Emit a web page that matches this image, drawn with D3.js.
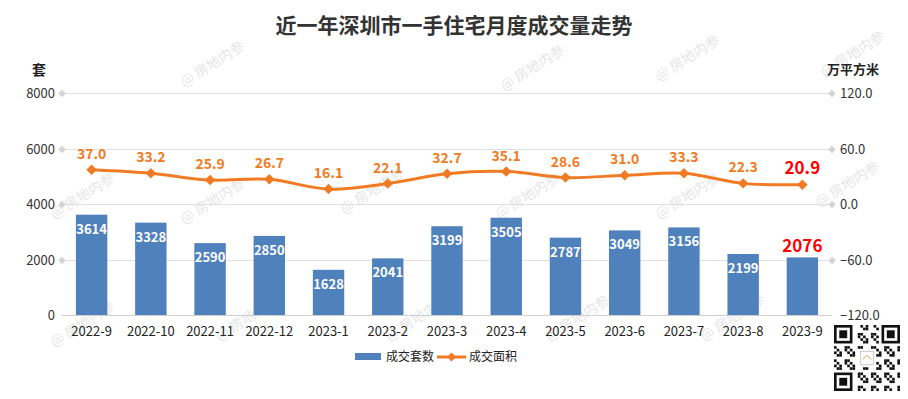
<!DOCTYPE html>
<html>
<head>
<meta charset="utf-8">
<script src="https://cdn.jsdelivr.net/npm/d3@7/dist/d3.min.js"></script>
<style>
body { margin: 0; background: #fff; }
text { font-family: "Microsoft YaHei", "Noto Sans CJK SC", "Open Sans", sans-serif; }
</style>
</head>
<body>
<div id="chart"></div>
<script>
// data
var months = ["2022-9", "2022-10", "2022-11", "2022-12", "2023-1", "2023-2", "2023-3",
	"2023-4", "2023-5", "2023-6", "2023-7", "2023-8", "2023-9"];
var units = [3614, 3328, 2590, 2850, 1628, 2041, 3199, 3505, 2787, 3049, 3156, 2199, 2076];
var area = [37.0, 33.2, 25.9, 26.7, 16.1, 22.1, 32.7, 35.1, 28.6, 31.0, 33.3, 22.3, 20.9];
var leftTicks = [0, 2000, 4000, 6000, 8000];
var rightTicks = [-120, -60, 0, 60, 120];

var W = 908, H = 399;
var blue = "#4f81bd", orange = "#f07b24", red = "#ff0000";

var svg = d3.select("#chart").append("svg")
	.attr("width", W).attr("height", H);

// watermarks first, below everything
var wm = svg.append("g").attr("id", "watermarks");
var wmPos = [[215, 68], [535, 72], [690, 62], [855, 58],
	[85, 200], [215, 205], [375, 195], [530, 200], [690, 200], [850, 188],
	[85, 328], [250, 322], [420, 322], [580, 322], [735, 322]];
wmPos.forEach(function(p){
	wm.append("text")
		.attr("transform", "translate(" + p[0] + "," + p[1] + ") rotate(-32)")
		.attr("text-anchor", "middle")
		.attr("font-size", 14)
		.attr("fill", "#e6e6e6")
		.text("@ 房地内参");
});

var x0 = 62, x1 = 832, yTop = 93, yBot = 315;

var x = d3.scaleBand().domain(months).range([x0, x1]).paddingInner(0.47).paddingOuter(0.235);
var yL = d3.scaleLinear().domain([0, 8000]).range([yBot, yTop]);
var yR = d3.scaleLinear().domain([-120, 120]).range([yBot, yTop]);

// grid lines + diamonds
var grid = svg.append("g");
leftTicks.forEach(function(t){
	var yy = Math.round(yL(t)) + 0.5;
	grid.append("line")
		.attr("x1", x0).attr("x2", x1).attr("y1", yy).attr("y2", yy)
		.attr("stroke", t == 0 ? "#d0d0d0" : "#e0e0e0").attr("stroke-width", 1);
	if (t != 0) {
		[x0, x1].forEach(function(xx){
			grid.append("path")
				.attr("d", d3.symbol().type(d3.symbolDiamond2).size(36)())
				.attr("transform", "translate(" + xx + "," + yy + ")")
				.attr("fill", "#d4d4d4");
		});
	}
});

// left axis labels
svg.append("g").selectAll("text").data(leftTicks).join("text")
	.attr("x", 55).attr("y", function(d){ return yL(d) + 5; })
	.attr("text-anchor", "end").attr("font-size", 13).attr("fill", "#333")
	.text(function(d){ return d; });

// right axis labels
svg.append("g").selectAll("text").data(rightTicks).join("text")
	.attr("x", 840).attr("y", function(d){ return yR(d) + 5; })
	.attr("font-size", 13).attr("fill", "#333")
	.text(function(d){ return d3.format(".1f")(d); });

// unit labels
svg.append("text").attr("x", 39).attr("y", 75).attr("text-anchor", "middle")
	.attr("font-size", 14).attr("font-weight", "bold").attr("fill", "#222").text("套");
svg.append("text").attr("x", 853).attr("y", 74).attr("text-anchor", "middle")
	.attr("font-size", 13).attr("font-weight", "bold").attr("fill", "#222").text("万平方米");

// category labels
svg.append("g").selectAll("text").data(months).join("text")
	.attr("x", function(d){ return x(d) + x.bandwidth() / 2; })
	.attr("y", 336).attr("text-anchor", "middle")
	.attr("font-size", 13).attr("fill", "#222")
	.text(function(d){ return d; });

// bars
svg.append("g").selectAll("rect").data(units).join("rect")
	.attr("x", function(d, i){ return x(months[i]); })
	.attr("width", x.bandwidth())
	.attr("y", function(d){ return yL(d); })
	.attr("height", function(d){ return yBot - yL(d); })
	.attr("fill", blue);

// bar labels
var last = units.length - 1;
svg.append("g").selectAll("text").data(units).join("text")
	.attr("x", function(d, i){ return x(months[i]) + x.bandwidth() / 2; })
	.attr("y", function(d, i){ return i == last ? yL(d) - 5 : yL(d) + 19; })
	.attr("text-anchor", "middle")
	.attr("font-size", function(d, i){ return i == last ? 17 : 13; })
	.attr("font-weight", "bold")
	.attr("fill", function(d, i){ return i == last ? red : "#fff"; })
	.text(function(d){ return d; });

// line
var cx = function(i){ return x(months[i]) + x.bandwidth() / 2; };
var line = d3.line()
	.x(function(d, i){ return cx(i); })
	.y(function(d){ return yR(d); })
	.curve(d3.curveCatmullRom.alpha(0.5));
svg.append("path").datum(area)
	.attr("d", line)
	.attr("fill", "none").attr("stroke", orange).attr("stroke-width", 3);

svg.append("g").selectAll("path").data(area).join("path")
	.attr("d", d3.symbol().type(d3.symbolDiamond2).size(70)())
	.attr("transform", function(d, i){ return "translate(" + cx(i) + "," + yR(d) + ")"; })
	.attr("fill", orange);

svg.append("g").selectAll("text").data(area).join("text")
	.attr("x", function(d, i){ return cx(i); })
	.attr("y", function(d){ return yR(d) - 11; })
	.attr("text-anchor", "middle")
	.attr("font-size", function(d, i){ return i == last ? 17 : 14; })
	.attr("font-weight", "bold")
	.attr("fill", function(d, i){ return i == last ? red : orange; })
	.text(function(d){ return d3.format(".1f")(d); });

// title
svg.append("text").attr("x", 454).attr("y", 33).attr("text-anchor", "middle")
	.attr("font-size", 21).attr("font-weight", "bold").attr("fill", "#333")
	.text("近一年深圳市一手住宅月度成交量走势");

// legend
var lg = svg.append("g");
lg.append("rect").attr("x", 355).attr("y", 353).attr("width", 26).attr("height", 7).attr("fill", blue);
lg.append("text").attr("x", 386).attr("y", 361).attr("font-size", 12).attr("fill", "#222").text("成交套数");
lg.append("line").attr("x1", 437).attr("x2", 466).attr("y1", 357).attr("y2", 357)
	.attr("stroke", orange).attr("stroke-width", 3);
lg.append("path").attr("d", d3.symbol().type(d3.symbolDiamond2).size(50)())
	.attr("transform", "translate(451.5,357)").attr("fill", orange);
lg.append("text").attr("x", 469).attr("y", 361).attr("font-size", 12).attr("fill", "#222").text("成交面积");

// qr-ish code in the corner (decoration)
var qr = svg.append("g").attr("transform", "translate(834,325)");
var n = 25, cs = 66 / n;
qr.append("rect").attr("width", 66).attr("height", 70).attr("fill", "#fff");
function finder(gx, gy){
	qr.append("rect").attr("x", gx * cs).attr("y", gy * cs).attr("width", 7 * cs).attr("height", 7 * cs).attr("fill", "#111");
	qr.append("rect").attr("x", (gx + 1) * cs).attr("y", (gy + 1) * cs).attr("width", 5 * cs).attr("height", 5 * cs).attr("fill", "#fff");
	qr.append("rect").attr("x", (gx + 2) * cs).attr("y", (gy + 2) * cs).attr("width", 3 * cs).attr("height", 3 * cs).attr("fill", "#111");
}
for (var r = 0; r < n; r++) {
	for (var c = 0; c < n; c++) {
		var inF = (r < 8 && c < 8) || (r < 8 && c >= n - 8) || (r >= n - 8 && c < 8);
		var inLogo = r >= 9 && r <= 15 && c >= 9 && c <= 15;
		if (inF || inLogo) continue;
		if (((r * 7 + c * 13 + r * c) % 5) < 2) {
			qr.append("rect").attr("x", c * cs).attr("y", r * cs).attr("width", cs).attr("height", cs).attr("fill", "#111");
		}
	}
}
finder(0, 0); finder(n - 7, 0); finder(0, n - 7);
qr.append("rect").attr("x", 10 * cs).attr("y", 10 * cs).attr("width", 5 * cs).attr("height", 5 * cs)
	.attr("fill", "#fff").attr("stroke", "#ccc");
qr.append("path").attr("d", "M" + (10.8 * cs) + "," + (13 * cs) + " L" + (12.5 * cs) + "," + (11.5 * cs) + " L" + (14.2 * cs) + "," + (13 * cs))
	.attr("fill", "none").attr("stroke", "#d9a15a").attr("stroke-width", 1);
</script>
</body>
</html>
